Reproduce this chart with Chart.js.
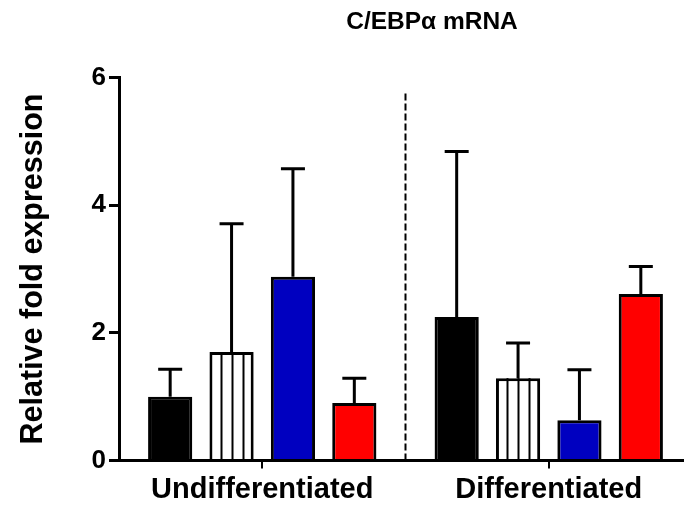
<!DOCTYPE html>
<html>
<head>
<meta charset="utf-8">
<script src="https://cdn.jsdelivr.net/npm/chart.js@4/dist/chart.umd.min.js"></script>
<style>
  html, body { margin: 0; padding: 0; background: #fff; overflow: hidden; }
  #wrap { width: 692px; height: 510px; }
</style>
</head>
<body>
<div id="wrap"><canvas id="bars"></canvas></div>
<script>
const categories = ['Undifferentiated', 'Differentiated'];
const blackVals = [1.0, 2.25];
const blackErr = [0.43, 2.59];
const stripeVals = [1.70, 1.29];
const stripeErr = [2.01, 0.55];
const blueVals = [2.88, 0.63];
const blueErr = [1.69, 0.79];
const redVals = [0.90, 2.61];
const redErr = [0.39, 0.43];
const yTicks = [0, 2, 4, 6];

const FONT = 'Arial, "Liberation Sans", sans-serif';

// error bars (upper only), stripes, divider and title
const extras = {
  id: 'extras',
  afterDatasetsDraw(chart) {
    const ctx = chart.ctx;
    const y = chart.scales.y;
    const x = chart.scales.x;
    ctx.save();
    ctx.strokeStyle = '#000';

    // vertical stripes in the open bars
    const sm = chart.getDatasetMeta(1);
    ctx.lineWidth = 2;
    sm.data.forEach(el => {
      const left = el.x - el.width / 2;
      for (let k = 1; k < 4; k++) {
        const px = Math.round(left + k * el.width / 4) + 0.5;
        ctx.beginPath();
        ctx.moveTo(px, el.y);
        ctx.lineTo(px, el.base);
        ctx.stroke();
      }
    });

    // error bars
    ctx.lineWidth = 3;
    chart.data.datasets.forEach((ds, di) => {
      const meta = chart.getDatasetMeta(di);
      meta.data.forEach((el, i) => {
        const top = y.getPixelForValue(ds.data[i] + ds.err[i]);
        ctx.beginPath();
        ctx.moveTo(el.x, el.y);
        ctx.lineTo(el.x, top);
        ctx.moveTo(el.x - 12, top);
        ctx.lineTo(el.x + 12, top);
        ctx.stroke();
      });
    });

    // dashed divider between the groups
    const mid = (x.getPixelForValue(0) + x.getPixelForValue(1)) / 2;
    ctx.lineWidth = 2;
    ctx.setLineDash([7, 3]);
    ctx.beginPath();
    ctx.moveTo(mid, y.getPixelForValue(5.75));
    ctx.lineTo(mid, y.bottom);
    ctx.stroke();
    ctx.setLineDash([]);

    // title
    ctx.fillStyle = '#000';
    ctx.font = 'bold 24.5px ' + FONT;
    ctx.textAlign = 'center';
    ctx.textBaseline = 'middle';
    ctx.fillText('C/EBPα mRNA', 432, 22);
    ctx.restore();
  }
};

const barConfig = {
  type: 'bar',
  data: {
    labels: categories,
    datasets: [
      { data: blackVals, err: blackErr, backgroundColor: '#000000' },
      { data: stripeVals, err: stripeErr, backgroundColor: '#ffffff' },
      { data: blueVals, err: blueErr, backgroundColor: '#0000c0' },
      { data: redVals, err: redErr, backgroundColor: '#ff0000' },
    ].map(d => Object.assign(d, {
      borderColor: '#000',
      borderWidth: 3,
      borderSkipped: 'start',
      categoryPercentage: 0.857,
      barPercentage: 0.72,
    })),
  },
  options: {
    responsive: true,
    maintainAspectRatio: false,
    animation: false,
    layout: { padding: { top: 77.5, right: 0, left: 0, bottom: 0 } },
    plugins: {
      legend: { display: false },
      tooltip: { enabled: false },
      title: { display: false },
    },
    scales: {
      x: {
        offset: true,
        border: { display: true, color: '#000', width: 3 },
        grid: {
          offset: false,
          drawOnChartArea: false,
          drawTicks: true,
          tickLength: 8,
          color: '#000',
          lineWidth: 2,
        },
        ticks: {
          color: '#000',
          font: { family: FONT, size: 29, weight: 'bold' },
          padding: 4,
          maxRotation: 0,
        },
        afterFit(s) { s.height = 49.5; },
      },
      y: {
        min: 0,
        max: 6,
        afterBuildTicks(s) { s.ticks = yTicks.map(v => ({ value: v })); },
        border: { display: true, color: '#000', width: 3 },
        grid: {
          drawOnChartArea: false,
          drawTicks: true,
          tickLength: 10,
          color: '#000',
          lineWidth: 3,
        },
        ticks: {
          color: '#000',
          font: { family: FONT, size: 26, weight: 'bold' },
          padding: 3,
        },
        title: {
          display: true,
          text: 'Relative fold expression',
          color: '#000',
          font: { family: FONT, size: 30.5, weight: 'bold' },
          padding: { top: 15, bottom: 0 },
        },
        afterFit(s) { s.width = 119; },
      },
    },
  },
  plugins: [extras],
};

const barsCtx = document.getElementById('bars');
window.myBar = new Chart(barsCtx, barConfig);
</script>
</body>
</html>
